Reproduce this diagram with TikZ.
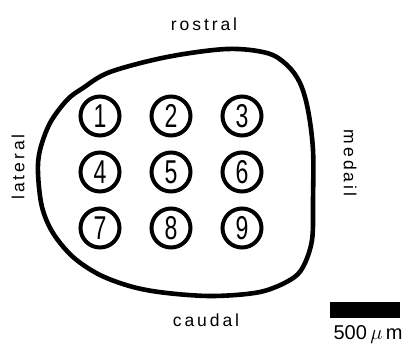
\documentclass[tikz,border=0pt]{standalone}
\usepackage{fontspec}
\setmainfont{Liberation Sans}
\newfontfamily\digitfont[FakeStretch=0.7]{Liberation Sans}
\begin{document}
\begin{tikzpicture}[x=1pt,y=-1pt,
  site/.style={circle,draw,line width=4pt,minimum size=39pt,inner sep=0pt,font=\digitfont\fontsize{33}{33}\selectfont},
  dirlabel/.style={font=\fontsize{17.5}{17.5}\selectfont}]
\useasboundingbox (0,0) rectangle (411,345);
\draw[line width=4.6pt] plot[smooth cycle,tension=0.55] coordinates {
(227,49) (167,57) (110,72) (83,88) (67,100) (50,123) (40,150) (38,173) (42,207) (53,233) (73,257) (100,275) (133,287) (167,293) (213,296) (260,292) (290,280) (303,267) (312,240) (313,200) (313,150) (308,110) (300,83) (287,65) (267,53)};
\node[site] (n1) at (100,116) {1};
\node[site] (n2) at (171,116) {2};
\node[site] (n3) at (242,116) {3};
\node[site] (n4) at (100,172) {4};
\node[site] (n5) at (171,172) {5};
\node[site] (n6) at (242,172) {6};
\node[site] (n7) at (100,228) {7};
\node[site] (n8) at (171,228) {8};
\node[site] (n9) at (242,228) {9};
\node[dirlabel] (ros) at (204,24) {r\,o\,s\,t\,r\,a\,l};
\node[dirlabel] (cau) at (206,320) {c\,a\,u\,d\,a\,l};
\node[dirlabel,rotate=90] (lat) at (18,167) {l\,a\,t\,e\,r\,a\,l};
\node[dirlabel,rotate=-90] (med) at (350,163) {m\,e\,d\,a\,i\,l};
\fill (330,302) rectangle (400,318);
\node[dirlabel,font=\fontsize{20}{20}\selectfont] (bar) at (368,335) {500\,$\mu$\,m};
\end{tikzpicture}
\end{document}
